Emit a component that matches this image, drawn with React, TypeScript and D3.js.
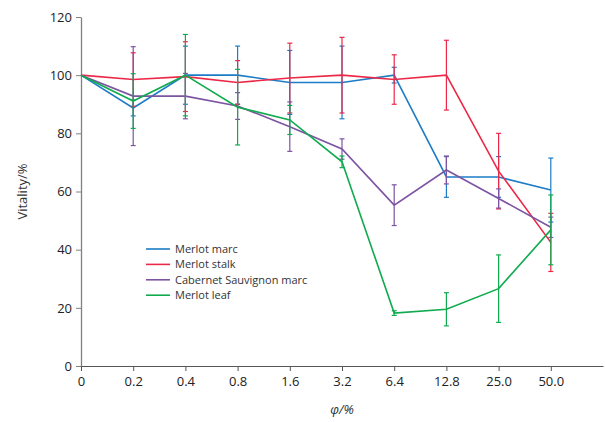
import React, { useEffect, useRef } from 'react';
import * as d3 from 'd3';

// x categories (concentration, %)
const categories = ['0', '0.2', '0.4', '0.8', '1.6', '3.2', '6.4', '12.8', '25.0', '50.0'];
const yTicks = [0, 20, 40, 60, 80, 100, 120];

const seriesNames = ['Merlot marc', 'Merlot stalk', 'Cabernet Sauvignon marc', 'Merlot leaf'];
const seriesColors = ['#1c7cc6', '#ec2848', '#7d54a2', '#0fab4e'];

const marcValues = [100, 88.7, 100, 100, 97.5, 97.5, 100, 65, 65, 60.5];
const marcErrors = [0, 2.7, 10, 10, 11, 12.5, 2.7, 7, 7, 11];

const stalkValues = [100, 98.5, 99.5, 97.5, 99, 100, 98.5, 100, 67, 42.5];
const stalkErrors = [0, 9.2, 12, 7.5, 12, 13, 8.5, 12, 13, 10];

const cabernetValues = [100, 92.8, 92.8, 89.4, 82.3, 74.6, 55.3, 67.4, 57.6, 47.7];
const cabernetErrors = [0, 17, 7.8, 4.6, 8.5, 3.5, 7, 4.8, 3.3, 3.5];

const leafValues = [100, 91.1, 100, 89, 84.6, 70.2, 18.2, 19.5, 26.6, 46.8];
const leafErrors = [0, 9.4, 14, 13, 5, 2, 0.8, 5.7, 11.6, 12];

const seriesValues = [marcValues, stalkValues, cabernetValues, leafValues];
const seriesErrors = [marcErrors, stalkErrors, cabernetErrors, leafErrors];

const W = 605;
const H = 422;

const App = () => {
    const svgRef = useRef<SVGSVGElement>(null);

    useEffect(() => {
        const svg = d3.select(svgRef.current);
        svg.selectAll('*').remove();

        const font = '"Open Sans", "DejaVu Sans", sans-serif';
        const left = 81, right = 603, top = 17, bottom = 366;

        // one slot per category plus an empty one at the end
        const x = d3.scaleLinear().domain([0, categories.length]).range([left, right]);
        const y = d3.scaleLinear().domain([0, 120]).range([bottom, top]);

        // axes
        const yAxis = svg.append('g')
            .attr('transform', `translate(${left},0)`)
            .call(d3.axisLeft(y).tickValues(yTicks).tickSize(5).tickSizeOuter(0));
        yAxis.select('.domain').attr('stroke', '#808080').attr('stroke-width', 1.3);
        yAxis.selectAll('.tick line').attr('stroke', '#808080');
        yAxis.selectAll('text')
            .attr('font-family', font).attr('font-size', 13).attr('fill', '#222')
            .attr('dx', -1);

        const xAxis = svg.append('g')
            .attr('transform', `translate(0,${bottom})`)
            .call(d3.axisBottom(x)
                .tickValues(d3.range(categories.length))
                .tickFormat((d) => categories[d as number])
                .tickSize(5).tickSizeOuter(0));
        xAxis.select('.domain').attr('stroke', '#555').attr('stroke-width', 1.2);
        xAxis.selectAll('.tick line').attr('stroke', '#555');
        xAxis.selectAll('text')
            .attr('font-family', font).attr('font-size', 13).attr('fill', '#222')
            .attr('dy', '0.9em');

        // error bars and lines
        const line = d3.line<number>()
            .x((_, i) => x(i))
            .y((d) => y(d));

        seriesValues.forEach((vals, s) => {
            const color = seriesColors[s];
            const errs = seriesErrors[s];
            const g = svg.append('g');
            vals.forEach((v, i) => {
                const e = errs[i];
                if (!e) return;
                const cx = x(i);
                g.append('line')
                    .attr('x1', cx).attr('x2', cx)
                    .attr('y1', y(v - e)).attr('y2', y(v + e))
                    .attr('stroke', color).attr('stroke-width', 1.2);
                [v - e, v + e].forEach((c) => {
                    g.append('line')
                        .attr('x1', cx - 2.5).attr('x2', cx + 2.5)
                        .attr('y1', y(c)).attr('y2', y(c))
                        .attr('stroke', color).attr('stroke-width', 1.2);
                });
            });
            g.append('path')
                .datum(vals)
                .attr('d', line)
                .attr('fill', 'none')
                .attr('stroke', color)
                .attr('stroke-width', 1.6);
        });

        // legend
        const legend = svg.append('g').attr('transform', 'translate(146,249)');
        seriesNames.forEach((name, i) => {
            const row = legend.append('g').attr('transform', `translate(0,${i * 15.4})`);
            row.append('line')
                .attr('x1', 0).attr('x2', 24)
                .attr('stroke', seriesColors[i]).attr('stroke-width', 1.6);
            row.append('text')
                .attr('x', 29).attr('dy', '0.35em')
                .attr('font-family', font).attr('font-size', 11).attr('fill', '#333')
                .text(name);
        });

        // axis titles
        svg.append('text')
            .attr('transform', `translate(27,${(top + bottom) / 2}) rotate(-90)`)
            .attr('text-anchor', 'middle')
            .attr('font-family', font).attr('font-size', 13).attr('fill', '#333')
            .text('Vitality/%');

        svg.append('text')
            .attr('x', 342).attr('y', 414)
            .attr('text-anchor', 'middle')
            .attr('font-family', font).attr('font-size', 13).attr('fill', '#333')
            .attr('font-style', 'italic')
            .text('φ/%');
    }, []);

    return (
        <svg ref={svgRef} width={W} height={H}
            style={{ position: 'absolute', left: 0, top: 0, background: '#fff' }} />
    );
};

export default App;
